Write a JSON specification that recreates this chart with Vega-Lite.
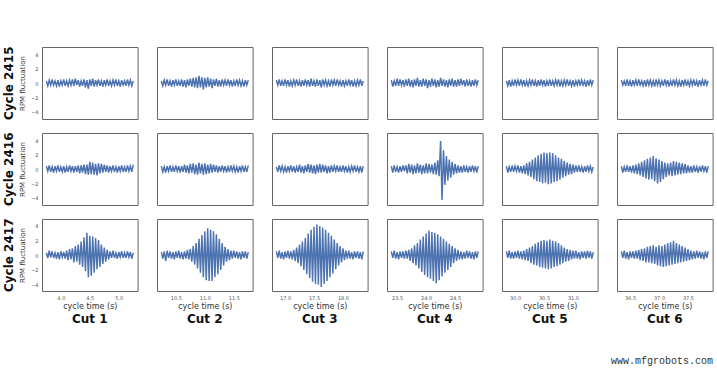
{
"$schema": "https://vega.github.io/schema/vega-lite/v6.json",
"padding": {"top": 46, "left": 3, "right": 0, "bottom": 0},
"background": "white",
"title": {"text": "www.mfgrobots.com", "orient": "bottom", "anchor": "end", "font": "Liberation Mono", "fontSize": 10, "fontWeight": "normal", "color": "#333", "offset": 30},
"config": {
  "view": {"stroke": "#666", "strokeWidth": 1},
  "axis": {"ticks": false, "domain": false, "grid": false, "labelFont": "DejaVu Sans", "titleFont": "DejaVu Sans", "titleFontWeight": "normal", "labelColor": "#555", "titleColor": "#333"},
  "axisX": {"labelFontSize": 5, "titleFontSize": 8, "labelPadding": 4, "titlePadding": 2},
  "axisY": {"labelFontSize": 5, "titleFontSize": 7, "labelPadding": 4, "titlePadding": 5},
  "title": {"font": "DejaVu Sans", "fontWeight": "bold", "fontSize": 12, "color": "#111"},
  "line": {"color": "#4c72b0", "strokeWidth": 1.45}
},
"datasets": {
"c1": [
{"t":3.75,"a":0.3,"b":0.4,"c":0.3},{"t":3.775,"a":-0.4,"b":-0.3,"c":-0.4},{"t":3.8,"a":0.4,"b":0.5,"c":0.6},{"t":3.825,"a":-0.3,"b":-0.4,"c":-0.3},{"t":3.85,"a":0.5,"b":0.3,"c":0.5},{"t":3.875,"a":-0.3,"b":-0.5,"c":-0.4},{"t":3.9,"a":0.3,"b":0.4,"c":0.3},{"t":3.925,"a":-0.4,"b":-0.3,"c":-0.5},{"t":3.95,"a":0.4,"b":0.5,"c":0.4},{"t":3.975,"a":-0.5,"b":-0.4,"c":-0.6},
{"t":4.0,"a":0.3,"b":0.3,"c":0.5},{"t":4.025,"a":-0.3,"b":-0.4,"c":-0.3},{"t":4.05,"a":0.5,"b":0.4,"c":0.4},{"t":4.075,"a":-0.4,"b":-0.5,"c":-0.5},{"t":4.1,"a":0.3,"b":0.3,"c":0.6},{"t":4.125,"a":-0.4,"b":-0.4,"c":-0.7},{"t":4.15,"a":0.4,"b":0.5,"c":0.8},{"t":4.175,"a":-0.3,"b":-0.3,"c":-0.6},{"t":4.2,"a":0.5,"b":0.4,"c":0.9},{"t":4.225,"a":-0.4,"b":-0.5,"c":-1.0},
{"t":4.25,"a":0.6,"b":0.4,"c":1.2},{"t":4.275,"a":-0.3,"b":-0.4,"c":-0.9},{"t":4.3,"a":0.4,"b":0.5,"c":1.4},{"t":4.325,"a":-0.5,"b":-0.6,"c":-1.3},{"t":4.35,"a":0.3,"b":0.5,"c":1.8},{"t":4.375,"a":-0.4,"b":-0.5,"c":-1.6},{"t":4.4,"a":0.5,"b":0.6,"c":2.4},{"t":4.425,"a":-0.6,"b":-0.7,"c":-2.2},{"t":4.45,"a":0.4,"b":0.6,"c":3.0},{"t":4.475,"a":-0.8,"b":-0.8,"c":-3.0},
{"t":4.5,"a":0.5,"b":1.0,"c":2.6},{"t":4.525,"a":-0.4,"b":-0.7,"c":-2.8},{"t":4.55,"a":0.6,"b":0.9,"c":2.5},{"t":4.575,"a":-0.5,"b":-0.8,"c":-2.4},{"t":4.6,"a":0.4,"b":0.7,"c":2.3},{"t":4.625,"a":-0.3,"b":-0.9,"c":-1.9},{"t":4.65,"a":0.5,"b":0.8,"c":2.0},{"t":4.675,"a":-0.4,"b":-0.6,"c":-1.6},{"t":4.7,"a":0.3,"b":0.7,"c":1.4},{"t":4.725,"a":-0.5,"b":-0.5,"c":-1.2},
{"t":4.75,"a":0.4,"b":0.6,"c":1.0},{"t":4.775,"a":-0.3,"b":-0.4,"c":-0.9},{"t":4.8,"a":0.5,"b":0.5,"c":0.7},{"t":4.825,"a":-0.4,"b":-0.5,"c":-0.6},{"t":4.85,"a":0.3,"b":0.4,"c":0.5},{"t":4.875,"a":-0.4,"b":-0.3,"c":-0.4},{"t":4.9,"a":0.4,"b":0.5,"c":0.6},{"t":4.925,"a":-0.3,"b":-0.4,"c":-0.4},{"t":4.95,"a":0.5,"b":0.3,"c":0.3},{"t":4.975,"a":-0.4,"b":-0.5,"c":-0.5},
{"t":5.0,"a":0.3,"b":0.4,"c":0.4},{"t":5.025,"a":-0.5,"b":-0.3,"c":-0.3},{"t":5.05,"a":0.4,"b":0.5,"c":0.5},{"t":5.075,"a":-0.3,"b":-0.4,"c":-0.4},{"t":5.1,"a":0.3,"b":0.3,"c":0.3},{"t":5.125,"a":-0.4,"b":-0.4,"c":-0.4},{"t":5.15,"a":0.5,"b":0.5,"c":0.5},{"t":5.175,"a":-0.3,"b":-0.3,"c":-0.3},{"t":5.2,"a":0.4,"b":0.4,"c":0.4},{"t":5.225,"a":-0.4,"b":-0.4,"c":-0.5},{"t":5.25,"a":0.3,"b":0.6,"c":0.3}
],
"c2": [
{"t":10.25,"a":0.3,"b":0.4,"c":0.4},{"t":10.275,"a":-0.4,"b":-0.4,"c":-0.5},{"t":10.3,"a":0.4,"b":0.3,"c":0.5},{"t":10.325,"a":-0.3,"b":-0.5,"c":-0.8},{"t":10.35,"a":0.5,"b":0.4,"c":0.6},{"t":10.375,"a":-0.4,"b":-0.3,"c":-0.4},{"t":10.4,"a":0.3,"b":0.5,"c":0.5},{"t":10.425,"a":-0.5,"b":-0.4,"c":-0.5},{"t":10.45,"a":0.4,"b":0.3,"c":0.4},{"t":10.475,"a":-0.3,"b":-0.4,"c":-0.6},
{"t":10.5,"a":0.5,"b":0.5,"c":0.5},{"t":10.525,"a":-0.4,"b":-0.3,"c":-0.4},{"t":10.55,"a":0.3,"b":0.4,"c":0.6},{"t":10.575,"a":-0.4,"b":-0.5,"c":-0.5},{"t":10.6,"a":0.5,"b":0.4,"c":0.4},{"t":10.625,"a":-0.5,"b":-0.4,"c":-0.6},{"t":10.65,"a":0.4,"b":0.6,"c":0.5},{"t":10.675,"a":-0.6,"b":-0.5,"c":-0.5},{"t":10.7,"a":0.5,"b":0.5,"c":0.7},{"t":10.725,"a":-0.4,"b":-0.6,"c":-0.6},
{"t":10.75,"a":0.6,"b":0.7,"c":0.8},{"t":10.775,"a":-0.5,"b":-0.5,"c":-0.9},{"t":10.8,"a":0.7,"b":0.8,"c":1.2},{"t":10.825,"a":-0.6,"b":-0.7,"c":-1.3},{"t":10.85,"a":0.8,"b":0.6,"c":1.6},{"t":10.875,"a":-0.7,"b":-0.8,"c":-1.8},{"t":10.9,"a":1.0,"b":0.9,"c":2.2},{"t":10.925,"a":-0.6,"b":-0.6,"c":-2.4},{"t":10.95,"a":0.8,"b":0.7,"c":2.7},{"t":10.975,"a":-0.9,"b":-0.8,"c":-3.0},
{"t":11.0,"a":0.7,"b":0.8,"c":3.2},{"t":11.025,"a":-0.6,"b":-0.7,"c":-3.4},{"t":11.05,"a":0.8,"b":0.6,"c":3.6},{"t":11.075,"a":-0.5,"b":-0.6,"c":-3.5},{"t":11.1,"a":0.6,"b":0.7,"c":3.4},{"t":11.125,"a":-0.7,"b":-0.5,"c":-3.5},{"t":11.15,"a":0.5,"b":0.6,"c":3.2},{"t":11.175,"a":-0.4,"b":-0.4,"c":-3.0},{"t":11.2,"a":0.6,"b":0.5,"c":2.8},{"t":11.225,"a":-0.5,"b":-0.5,"c":-2.6},
{"t":11.25,"a":0.4,"b":0.4,"c":2.2},{"t":11.275,"a":-0.5,"b":-0.4,"c":-2.0},{"t":11.3,"a":0.5,"b":0.5,"c":1.6},{"t":11.325,"a":-0.3,"b":-0.3,"c":-1.4},{"t":11.35,"a":0.4,"b":0.4,"c":1.1},{"t":11.375,"a":-0.4,"b":-0.5,"c":-0.9},{"t":11.4,"a":0.5,"b":0.3,"c":0.8},{"t":11.425,"a":-0.3,"b":-0.4,"c":-0.7},{"t":11.45,"a":0.4,"b":0.5,"c":0.6},{"t":11.475,"a":-0.5,"b":-0.3,"c":-0.5},
{"t":11.5,"a":0.3,"b":0.4,"c":0.6},{"t":11.525,"a":-0.4,"b":-0.4,"c":-0.4},{"t":11.55,"a":0.5,"b":0.3,"c":0.5},{"t":11.575,"a":-0.3,"b":-0.5,"c":-0.5},{"t":11.6,"a":0.4,"b":0.4,"c":0.4},{"t":11.625,"a":-0.4,"b":-0.3,"c":-0.6},{"t":11.65,"a":0.3,"b":0.5,"c":0.5},{"t":11.675,"a":-0.5,"b":-0.4,"c":-0.4},{"t":11.7,"a":0.4,"b":0.3,"c":0.5},{"t":11.725,"a":-0.3,"b":-0.4,"c":-0.5},{"t":11.75,"a":0.4,"b":0.5,"c":0.4}
],
"c3": [
{"t":16.85,"a":0.4,"b":0.3,"c":0.5},{"t":16.875,"a":-0.3,"b":-0.4,"c":-0.4},{"t":16.9,"a":0.5,"b":0.5,"c":0.6},{"t":16.925,"a":-0.4,"b":-0.3,"c":-0.5},{"t":16.95,"a":0.3,"b":0.4,"c":0.4},{"t":16.975,"a":-0.4,"b":-0.4,"c":-0.6},{"t":17.0,"a":0.5,"b":0.3,"c":0.5},{"t":17.025,"a":-0.3,"b":-0.5,"c":-0.4},{"t":17.05,"a":0.4,"b":0.4,"c":0.6},{"t":17.075,"a":-0.5,"b":-0.3,"c":-0.5},
{"t":17.1,"a":0.3,"b":0.5,"c":0.5},{"t":17.125,"a":-0.4,"b":-0.4,"c":-0.6},{"t":17.15,"a":0.4,"b":0.4,"c":0.7},{"t":17.175,"a":-0.3,"b":-0.5,"c":-0.8},{"t":17.2,"a":0.5,"b":0.3,"c":1.0},{"t":17.225,"a":-0.4,"b":-0.4,"c":-1.1},{"t":17.25,"a":0.3,"b":0.6,"c":1.4},{"t":17.275,"a":-0.5,"b":-0.5,"c":-1.5},{"t":17.3,"a":0.4,"b":0.4,"c":1.8},{"t":17.325,"a":-0.4,"b":-0.6,"c":-2.0},
{"t":17.35,"a":0.5,"b":0.5,"c":2.3},{"t":17.375,"a":-0.3,"b":-0.4,"c":-2.6},{"t":17.4,"a":0.4,"b":0.7,"c":2.9},{"t":17.425,"a":-0.5,"b":-0.5,"c":-3.1},{"t":17.45,"a":0.6,"b":0.6,"c":3.4},{"t":17.475,"a":-0.4,"b":-0.6,"c":-3.6},{"t":17.5,"a":0.3,"b":0.5,"c":3.8},{"t":17.525,"a":-0.5,"b":-0.7,"c":-3.9},{"t":17.55,"a":0.5,"b":0.6,"c":4.1},{"t":17.575,"a":-0.4,"b":-0.5,"c":-4.0},
{"t":17.6,"a":0.4,"b":0.7,"c":3.9},{"t":17.625,"a":-0.6,"b":-0.5,"c":-4.3},{"t":17.65,"a":0.5,"b":0.6,"c":3.7},{"t":17.675,"a":-0.3,"b":-0.4,"c":-3.9},{"t":17.7,"a":0.4,"b":0.5,"c":3.4},{"t":17.725,"a":-0.4,"b":-0.6,"c":-3.5},{"t":17.75,"a":0.3,"b":0.4,"c":3.0},{"t":17.775,"a":-0.5,"b":-0.5,"c":-3.0},{"t":17.8,"a":0.5,"b":0.5,"c":2.6},{"t":17.825,"a":-0.3,"b":-0.4,"c":-2.5},
{"t":17.85,"a":0.4,"b":0.4,"c":2.1},{"t":17.875,"a":-0.4,"b":-0.3,"c":-1.9},{"t":17.9,"a":0.5,"b":0.5,"c":1.6},{"t":17.925,"a":-0.3,"b":-0.4,"c":-1.4},{"t":17.95,"a":0.3,"b":0.3,"c":1.2},{"t":17.975,"a":-0.5,"b":-0.4,"c":-1.0},{"t":18.0,"a":0.4,"b":0.5,"c":0.9},{"t":18.025,"a":-0.4,"b":-0.3,"c":-0.7},{"t":18.05,"a":0.3,"b":0.4,"c":0.6},{"t":18.075,"a":-0.4,"b":-0.5,"c":-0.5},
{"t":18.1,"a":0.5,"b":0.3,"c":0.6},{"t":18.125,"a":-0.3,"b":-0.4,"c":-0.5},{"t":18.15,"a":0.4,"b":0.4,"c":0.4},{"t":18.175,"a":-0.5,"b":-0.3,"c":-0.6},{"t":18.2,"a":0.3,"b":0.5,"c":0.5},{"t":18.225,"a":-0.4,"b":-0.4,"c":-0.4},{"t":18.25,"a":0.4,"b":0.3,"c":0.5},{"t":18.275,"a":-0.3,"b":-0.4,"c":-0.5},{"t":18.3,"a":0.5,"b":0.4,"c":0.4},{"t":18.325,"a":-0.4,"b":-0.5,"c":-0.6},{"t":18.35,"a":0.3,"b":0.4,"c":0.5}
],
"c4": [
{"t":23.4,"a":0.4,"b":0.4,"c":0.5},{"t":23.425,"a":-0.5,"b":-0.5,"c":-0.4},{"t":23.45,"a":0.3,"b":0.5,"c":0.6},{"t":23.475,"a":-0.4,"b":-0.4,"c":-0.5},{"t":23.5,"a":0.6,"b":0.3,"c":0.4},{"t":23.525,"a":-0.4,"b":-0.5,"c":-0.6},{"t":23.55,"a":0.5,"b":0.4,"c":0.5},{"t":23.575,"a":-0.3,"b":-0.4,"c":-0.4},{"t":23.6,"a":0.4,"b":0.5,"c":0.5},{"t":23.625,"a":-0.5,"b":-0.3,"c":-0.5},
{"t":23.65,"a":0.5,"b":0.5,"c":0.6},{"t":23.675,"a":-0.4,"b":-0.6,"c":-0.5},{"t":23.7,"a":0.6,"b":0.7,"c":0.7},{"t":23.725,"a":-0.5,"b":-0.5,"c":-0.8},{"t":23.75,"a":0.4,"b":0.6,"c":0.9},{"t":23.775,"a":-0.6,"b":-0.7,"c":-1.1},{"t":23.8,"a":0.5,"b":0.5,"c":1.3},{"t":23.825,"a":-0.4,"b":-0.6,"c":-1.4},{"t":23.85,"a":0.7,"b":0.8,"c":1.6},{"t":23.875,"a":-0.5,"b":-0.5,"c":-1.8},
{"t":23.9,"a":0.4,"b":0.6,"c":2.1},{"t":23.925,"a":-0.5,"b":-0.7,"c":-2.3},{"t":23.95,"a":0.6,"b":0.5,"c":2.5},{"t":23.975,"a":-0.4,"b":-0.6,"c":-2.7},{"t":24.0,"a":0.5,"b":0.8,"c":2.9},{"t":24.025,"a":-0.7,"b":-0.6,"c":-3.0},{"t":24.05,"a":0.4,"b":0.7,"c":3.3},{"t":24.075,"a":-0.5,"b":-0.5,"c":-3.2},{"t":24.1,"a":0.6,"b":0.6,"c":3.1},{"t":24.125,"a":-0.4,"b":-0.7,"c":-3.5},
{"t":24.15,"a":0.5,"b":0.9,"c":3.0},{"t":24.175,"a":-0.6,"b":-0.8,"c":-3.8},{"t":24.2,"a":0.4,"b":1.2,"c":2.8},{"t":24.225,"a":-0.5,"b":-1.0,"c":-3.4},{"t":24.25,"a":0.7,"b":3.9,"c":2.5},{"t":24.275,"a":-0.4,"b":-4.3,"c":-2.9},{"t":24.3,"a":0.5,"b":2.6,"c":2.2},{"t":24.325,"a":-0.5,"b":-2.2,"c":-2.4},{"t":24.35,"a":0.4,"b":1.8,"c":1.8},{"t":24.375,"a":-0.6,"b":-1.6,"c":-2.0},
{"t":24.4,"a":0.5,"b":1.3,"c":1.5},{"t":24.425,"a":-0.4,"b":-1.2,"c":-1.6},{"t":24.45,"a":0.6,"b":1.0,"c":1.2},{"t":24.475,"a":-0.5,"b":-0.8,"c":-1.1},{"t":24.5,"a":0.4,"b":0.7,"c":0.9},{"t":24.525,"a":-0.5,"b":-0.6,"c":-0.8},{"t":24.55,"a":0.5,"b":0.5,"c":0.7},{"t":24.575,"a":-0.4,"b":-0.5,"c":-0.6},{"t":24.6,"a":0.6,"b":0.4,"c":0.5},{"t":24.625,"a":-0.3,"b":-0.5,"c":-0.6},
{"t":24.65,"a":0.4,"b":0.5,"c":0.4},{"t":24.675,"a":-0.5,"b":-0.4,"c":-0.5},{"t":24.7,"a":0.5,"b":0.3,"c":0.6},{"t":24.725,"a":-0.4,"b":-0.5,"c":-0.4},{"t":24.75,"a":0.3,"b":0.4,"c":0.5},{"t":24.775,"a":-0.5,"b":-0.4,"c":-0.5},{"t":24.8,"a":0.4,"b":0.5,"c":0.4},{"t":24.825,"a":-0.4,"b":-0.3,"c":-0.6},{"t":24.85,"a":0.5,"b":0.4,"c":0.5},{"t":24.875,"a":-0.3,"b":-0.5,"c":-0.4},{"t":24.9,"a":0.4,"b":0.4,"c":0.5}
],
"c5": [
{"t":29.85,"a":0.3,"b":0.4,"c":0.5},{"t":29.875,"a":-0.4,"b":-0.5,"c":-0.4},{"t":29.9,"a":0.4,"b":0.3,"c":0.6},{"t":29.925,"a":-0.5,"b":-0.4,"c":-0.5},{"t":29.95,"a":0.3,"b":0.5,"c":0.4},{"t":29.975,"a":-0.4,"b":-0.4,"c":-0.5},{"t":30.0,"a":0.5,"b":0.4,"c":0.5},{"t":30.025,"a":-0.3,"b":-0.3,"c":-0.4},{"t":30.05,"a":0.4,"b":0.5,"c":0.6},{"t":30.075,"a":-0.4,"b":-0.5,"c":-0.5},
{"t":30.1,"a":0.5,"b":0.4,"c":0.5},{"t":30.125,"a":-0.3,"b":-0.6,"c":-0.6},{"t":30.15,"a":0.4,"b":0.5,"c":0.6},{"t":30.175,"a":-0.5,"b":-0.7,"c":-0.7},{"t":30.2,"a":0.3,"b":0.8,"c":0.8},{"t":30.225,"a":-0.4,"b":-0.9,"c":-0.8},{"t":30.25,"a":0.4,"b":1.0,"c":1.0},{"t":30.275,"a":-0.3,"b":-1.1,"c":-1.1},{"t":30.3,"a":0.5,"b":1.3,"c":1.2},{"t":30.325,"a":-0.4,"b":-1.4,"c":-1.3},
{"t":30.35,"a":0.3,"b":1.6,"c":1.5},{"t":30.375,"a":-0.5,"b":-1.7,"c":-1.4},{"t":30.4,"a":0.4,"b":1.9,"c":1.7},{"t":30.425,"a":-0.4,"b":-1.8,"c":-1.6},{"t":30.45,"a":0.5,"b":2.1,"c":1.9},{"t":30.475,"a":-0.3,"b":-2.0,"c":-1.7},{"t":30.5,"a":0.4,"b":2.3,"c":2.0},{"t":30.525,"a":-0.5,"b":-1.9,"c":-1.8},{"t":30.55,"a":0.3,"b":2.2,"c":1.9},{"t":30.575,"a":-0.4,"b":-2.1,"c":-1.9},
{"t":30.6,"a":0.5,"b":2.3,"c":2.1},{"t":30.625,"a":-0.4,"b":-2.0,"c":-1.8},{"t":30.65,"a":0.3,"b":2.2,"c":1.9},{"t":30.675,"a":-0.4,"b":-1.8,"c":-1.6},{"t":30.7,"a":0.4,"b":1.9,"c":1.8},{"t":30.725,"a":-0.3,"b":-1.7,"c":-1.5},{"t":30.75,"a":0.5,"b":1.6,"c":1.6},{"t":30.775,"a":-0.5,"b":-1.5,"c":-1.3},{"t":30.8,"a":0.3,"b":1.4,"c":1.3},{"t":30.825,"a":-0.4,"b":-1.2,"c":-1.1},
{"t":30.85,"a":0.4,"b":1.1,"c":1.0},{"t":30.875,"a":-0.3,"b":-1.0,"c":-0.9},{"t":30.9,"a":0.5,"b":0.9,"c":0.8},{"t":30.925,"a":-0.4,"b":-0.8,"c":-0.8},{"t":30.95,"a":0.3,"b":0.7,"c":0.7},{"t":30.975,"a":-0.4,"b":-0.7,"c":-0.6},{"t":31.0,"a":0.4,"b":0.6,"c":0.6},{"t":31.025,"a":-0.5,"b":-0.5,"c":-0.5},{"t":31.05,"a":0.3,"b":0.5,"c":0.6},{"t":31.075,"a":-0.3,"b":-0.4,"c":-0.5},
{"t":31.1,"a":0.5,"b":0.5,"c":0.4},{"t":31.125,"a":-0.4,"b":-0.4,"c":-0.6},{"t":31.15,"a":0.4,"b":0.3,"c":0.5},{"t":31.175,"a":-0.3,"b":-0.5,"c":-0.4},{"t":31.2,"a":0.3,"b":0.4,"c":0.5},{"t":31.225,"a":-0.5,"b":-0.4,"c":-0.5},{"t":31.25,"a":0.4,"b":0.5,"c":0.6},{"t":31.275,"a":-0.4,"b":-0.3,"c":-0.4},{"t":31.3,"a":0.5,"b":0.4,"c":0.5},{"t":31.325,"a":-0.3,"b":-0.4,"c":-0.5},{"t":31.35,"a":0.4,"b":0.3,"c":0.4}
],
"c6": [
{"t":36.35,"a":0.4,"b":0.4,"c":0.5},{"t":36.375,"a":-0.3,"b":-0.5,"c":-0.4},{"t":36.4,"a":0.3,"b":0.3,"c":0.6},{"t":36.425,"a":-0.4,"b":-0.4,"c":-0.5},{"t":36.45,"a":0.5,"b":0.5,"c":0.4},{"t":36.475,"a":-0.4,"b":-0.4,"c":-0.6},{"t":36.5,"a":0.3,"b":0.4,"c":0.5},{"t":36.525,"a":-0.5,"b":-0.5,"c":-0.4},{"t":36.55,"a":0.4,"b":0.5,"c":0.5},{"t":36.575,"a":-0.3,"b":-0.6,"c":-0.5},
{"t":36.6,"a":0.4,"b":0.6,"c":0.6},{"t":36.625,"a":-0.4,"b":-0.7,"c":-0.5},{"t":36.65,"a":0.5,"b":0.8,"c":0.7},{"t":36.675,"a":-0.3,"b":-0.9,"c":-0.7},{"t":36.7,"a":0.3,"b":1.0,"c":0.8},{"t":36.725,"a":-0.4,"b":-1.1,"c":-0.8},{"t":36.75,"a":0.4,"b":1.2,"c":0.9},{"t":36.775,"a":-0.5,"b":-1.3,"c":-1.0},{"t":36.8,"a":0.5,"b":1.4,"c":1.1},{"t":36.825,"a":-0.3,"b":-1.5,"c":-1.0},
{"t":36.85,"a":0.4,"b":1.6,"c":1.2},{"t":36.875,"a":-0.4,"b":-1.4,"c":-1.1},{"t":36.9,"a":0.3,"b":1.8,"c":1.3},{"t":36.925,"a":-0.5,"b":-1.7,"c":-1.2},{"t":36.95,"a":0.5,"b":1.5,"c":1.1},{"t":36.975,"a":-0.3,"b":-2.0,"c":-1.4},{"t":37.0,"a":0.4,"b":1.3,"c":1.3},{"t":37.025,"a":-0.4,"b":-1.8,"c":-1.5},{"t":37.05,"a":0.3,"b":1.1,"c":1.2},{"t":37.075,"a":-0.4,"b":-1.4,"c":-1.6},
{"t":37.1,"a":0.5,"b":0.9,"c":1.4},{"t":37.125,"a":-0.3,"b":-1.1,"c":-1.5},{"t":37.15,"a":0.4,"b":0.8,"c":1.6},{"t":37.175,"a":-0.5,"b":-0.9,"c":-1.4},{"t":37.2,"a":0.3,"b":0.9,"c":1.7},{"t":37.225,"a":-0.4,"b":-1.0,"c":-1.3},{"t":37.25,"a":0.5,"b":1.1,"c":1.9},{"t":37.275,"a":-0.3,"b":-0.9,"c":-1.2},{"t":37.3,"a":0.4,"b":1.0,"c":1.6},{"t":37.325,"a":-0.4,"b":-0.8,"c":-1.1},
{"t":37.35,"a":0.3,"b":0.9,"c":1.4},{"t":37.375,"a":-0.5,"b":-0.7,"c":-1.0},{"t":37.4,"a":0.4,"b":0.8,"c":1.2},{"t":37.425,"a":-0.3,"b":-0.6,"c":-0.9},{"t":37.45,"a":0.5,"b":0.7,"c":1.0},{"t":37.475,"a":-0.4,"b":-0.6,"c":-0.8},{"t":37.5,"a":0.3,"b":0.5,"c":0.8},{"t":37.525,"a":-0.4,"b":-0.5,"c":-0.7},{"t":37.55,"a":0.4,"b":0.4,"c":0.6},{"t":37.575,"a":-0.3,"b":-0.5,"c":-0.6},
{"t":37.6,"a":0.5,"b":0.5,"c":0.5},{"t":37.625,"a":-0.4,"b":-0.4,"c":-0.5},{"t":37.65,"a":0.3,"b":0.3,"c":0.6},{"t":37.675,"a":-0.5,"b":-0.5,"c":-0.4},{"t":37.7,"a":0.4,"b":0.4,"c":0.5},{"t":37.725,"a":-0.3,"b":-0.4,"c":-0.5},{"t":37.75,"a":0.4,"b":0.5,"c":0.4},{"t":37.775,"a":-0.4,"b":-0.3,"c":-0.6},{"t":37.8,"a":0.5,"b":0.4,"c":0.5},{"t":37.825,"a":-0.3,"b":-0.5,"c":-0.4},{"t":37.85,"a":0.3,"b":0.4,"c":0.5}
]
},
"spacing": 11,
"vconcat": [
{"title": {"text": "Cycle 2415", "orient": "left", "anchor": "end", "offset": 2}, "spacing": 17, "hconcat": [
 {"width": 95.6, "height": 72, "data": {"name": "c1"}, "mark": "line", "encoding": {"x": {"field": "t", "type": "quantitative", "scale": {"domain": [3.675, 5.325], "nice": false, "zero": false}, "axis": null}, "y": {"field": "a", "type": "quantitative", "scale": {"domain": [-5, 5], "nice": false}, "axis": {"values": [-4, -2, 0, 2, 4], "title": "RPM fluctuation"}}}},
 {"width": 95.6, "height": 72, "data": {"name": "c2"}, "mark": "line", "encoding": {"x": {"field": "t", "type": "quantitative", "scale": {"domain": [10.175, 11.825], "nice": false, "zero": false}, "axis": null}, "y": {"field": "a", "type": "quantitative", "scale": {"domain": [-5, 5], "nice": false}, "axis": null}}},
 {"width": 95.6, "height": 72, "data": {"name": "c3"}, "mark": "line", "encoding": {"x": {"field": "t", "type": "quantitative", "scale": {"domain": [16.775, 18.425], "nice": false, "zero": false}, "axis": null}, "y": {"field": "a", "type": "quantitative", "scale": {"domain": [-5, 5], "nice": false}, "axis": null}}},
 {"width": 95.6, "height": 72, "data": {"name": "c4"}, "mark": "line", "encoding": {"x": {"field": "t", "type": "quantitative", "scale": {"domain": [23.325, 24.975], "nice": false, "zero": false}, "axis": null}, "y": {"field": "a", "type": "quantitative", "scale": {"domain": [-5, 5], "nice": false}, "axis": null}}},
 {"width": 95.6, "height": 72, "data": {"name": "c5"}, "mark": "line", "encoding": {"x": {"field": "t", "type": "quantitative", "scale": {"domain": [29.775, 31.425], "nice": false, "zero": false}, "axis": null}, "y": {"field": "a", "type": "quantitative", "scale": {"domain": [-5, 5], "nice": false}, "axis": null}}},
 {"width": 95.6, "height": 72, "data": {"name": "c6"}, "mark": "line", "encoding": {"x": {"field": "t", "type": "quantitative", "scale": {"domain": [36.275, 37.925], "nice": false, "zero": false}, "axis": null}, "y": {"field": "a", "type": "quantitative", "scale": {"domain": [-5, 5], "nice": false}, "axis": null}}}
]},
{"title": {"text": "Cycle 2416", "orient": "left", "anchor": "end", "offset": 2}, "spacing": 17, "hconcat": [
 {"width": 95.6, "height": 72, "data": {"name": "c1"}, "mark": "line", "encoding": {"x": {"field": "t", "type": "quantitative", "scale": {"domain": [3.675, 5.325], "nice": false, "zero": false}, "axis": null}, "y": {"field": "b", "type": "quantitative", "scale": {"domain": [-5, 5], "nice": false}, "axis": {"values": [-4, -2, 0, 2, 4], "title": "RPM fluctuation"}}}},
 {"width": 95.6, "height": 72, "data": {"name": "c2"}, "mark": "line", "encoding": {"x": {"field": "t", "type": "quantitative", "scale": {"domain": [10.175, 11.825], "nice": false, "zero": false}, "axis": null}, "y": {"field": "b", "type": "quantitative", "scale": {"domain": [-5, 5], "nice": false}, "axis": null}}},
 {"width": 95.6, "height": 72, "data": {"name": "c3"}, "mark": "line", "encoding": {"x": {"field": "t", "type": "quantitative", "scale": {"domain": [16.775, 18.425], "nice": false, "zero": false}, "axis": null}, "y": {"field": "b", "type": "quantitative", "scale": {"domain": [-5, 5], "nice": false}, "axis": null}}},
 {"width": 95.6, "height": 72, "data": {"name": "c4"}, "mark": "line", "encoding": {"x": {"field": "t", "type": "quantitative", "scale": {"domain": [23.325, 24.975], "nice": false, "zero": false}, "axis": null}, "y": {"field": "b", "type": "quantitative", "scale": {"domain": [-5, 5], "nice": false}, "axis": null}}},
 {"width": 95.6, "height": 72, "data": {"name": "c5"}, "mark": "line", "encoding": {"x": {"field": "t", "type": "quantitative", "scale": {"domain": [29.775, 31.425], "nice": false, "zero": false}, "axis": null}, "y": {"field": "b", "type": "quantitative", "scale": {"domain": [-5, 5], "nice": false}, "axis": null}}},
 {"width": 95.6, "height": 72, "data": {"name": "c6"}, "mark": "line", "encoding": {"x": {"field": "t", "type": "quantitative", "scale": {"domain": [36.275, 37.925], "nice": false, "zero": false}, "axis": null}, "y": {"field": "b", "type": "quantitative", "scale": {"domain": [-5, 5], "nice": false}, "axis": null}}}
]},
{"title": {"text": "Cycle 2417", "orient": "left", "anchor": "end", "offset": 2}, "spacing": 17, "hconcat": [
 {"width": 95.6, "height": 72, "title": {"text": "Cut 1", "orient": "bottom", "offset": 4}, "data": {"name": "c1"}, "mark": "line", "encoding": {"x": {"field": "t", "type": "quantitative", "scale": {"domain": [3.675, 5.325], "nice": false, "zero": false}, "axis": {"values": [4.0, 4.5, 5.0], "format": ".1f", "title": "cycle time (s)"}}, "y": {"field": "c", "type": "quantitative", "scale": {"domain": [-4.85, 4.85], "nice": false}, "axis": {"values": [-4, -2, 0, 2, 4], "title": "RPM fluctuation"}}}},
 {"width": 95.6, "height": 72, "title": {"text": "Cut 2", "orient": "bottom", "offset": 4}, "data": {"name": "c2"}, "mark": "line", "encoding": {"x": {"field": "t", "type": "quantitative", "scale": {"domain": [10.175, 11.825], "nice": false, "zero": false}, "axis": {"values": [10.5, 11.0, 11.5], "format": ".1f", "title": "cycle time (s)"}}, "y": {"field": "c", "type": "quantitative", "scale": {"domain": [-4.85, 4.85], "nice": false}, "axis": null}}},
 {"width": 95.6, "height": 72, "title": {"text": "Cut 3", "orient": "bottom", "offset": 4}, "data": {"name": "c3"}, "mark": "line", "encoding": {"x": {"field": "t", "type": "quantitative", "scale": {"domain": [16.775, 18.425], "nice": false, "zero": false}, "axis": {"values": [17.0, 17.5, 18.0], "format": ".1f", "title": "cycle time (s)"}}, "y": {"field": "c", "type": "quantitative", "scale": {"domain": [-4.85, 4.85], "nice": false}, "axis": null}}},
 {"width": 95.6, "height": 72, "title": {"text": "Cut 4", "orient": "bottom", "offset": 4}, "data": {"name": "c4"}, "mark": "line", "encoding": {"x": {"field": "t", "type": "quantitative", "scale": {"domain": [23.325, 24.975], "nice": false, "zero": false}, "axis": {"values": [23.5, 24.0, 24.5], "format": ".1f", "title": "cycle time (s)"}}, "y": {"field": "c", "type": "quantitative", "scale": {"domain": [-4.85, 4.85], "nice": false}, "axis": null}}},
 {"width": 95.6, "height": 72, "title": {"text": "Cut 5", "orient": "bottom", "offset": 4}, "data": {"name": "c5"}, "mark": "line", "encoding": {"x": {"field": "t", "type": "quantitative", "scale": {"domain": [29.775, 31.425], "nice": false, "zero": false}, "axis": {"values": [30.0, 30.5, 31.0], "format": ".1f", "title": "cycle time (s)"}}, "y": {"field": "c", "type": "quantitative", "scale": {"domain": [-4.85, 4.85], "nice": false}, "axis": null}}},
 {"width": 95.6, "height": 72, "title": {"text": "Cut 6", "orient": "bottom", "offset": 4}, "data": {"name": "c6"}, "mark": "line", "encoding": {"x": {"field": "t", "type": "quantitative", "scale": {"domain": [36.275, 37.925], "nice": false, "zero": false}, "axis": {"values": [36.5, 37.0, 37.5], "format": ".1f", "title": "cycle time (s)"}}, "y": {"field": "c", "type": "quantitative", "scale": {"domain": [-4.85, 4.85], "nice": false}, "axis": null}}}
]}
]
}
